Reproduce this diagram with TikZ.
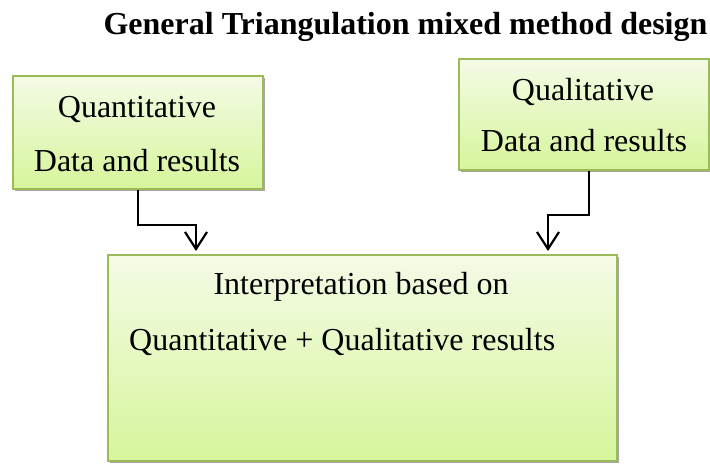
\documentclass[tikz,border=0pt]{standalone}
\usepackage{fontspec}
\setmainfont{Liberation Serif}
\usetikzlibrary{arrows.meta,calc}

\definecolor{boxline}{HTML}{9BBB59}
\definecolor{boxtop}{HTML}{F4FBE6}
\definecolor{boxbottom}{HTML}{D6F59B}
\definecolor{shadowgray}{HTML}{A6A6A6}

\tikzset{
  panel/.style={draw=boxline, line width=1.6pt, top color=boxtop, bottom color=boxbottom,
    rectangle, anchor=north west, inner sep=0pt},
  panelshadow/.style={fill=shadowgray, draw=none},
  label/.style={font=\fontsize{32}{38}\selectfont, anchor=base, inner sep=0pt},
  flow/.style={line width=2.2pt, -{Straight Barb[length=17pt,width=22pt,line width=2.2pt]},
    shorten >=3pt},
}

\begin{document}
\begin{tikzpicture}[x=1pt,y=-1pt]
\useasboundingbox (0,0) rectangle (710,464);

% heading
\node[label, font=\fontsize{32}{38}\selectfont\bfseries] (title) at (405.5,34)
  {General Triangulation mixed method design};

% shadows behind the panels
\fill[panelshadow] (15,78) rectangle (265,191);
\fill[panelshadow] (461,61) rectangle (711,172);
\fill[panelshadow] (110,257) rectangle (619,463);

% panels
\node[panel, minimum width=250pt, minimum height=113pt] (quant) at (12,75) {};
\node[panel, minimum width=250pt, minimum height=111pt] (qual) at (458,58) {};
\node[panel, minimum width=509pt, minimum height=206pt] (interp) at (107,254) {};

% panel texts
\node[label] (quantA) at (137,117) {Quantitative};
\node[label] (quantB) at (137,171) {Data and results};
\node[label] (qualA) at (583,100) {Qualitative};
\node[label] (qualB) at (584,151) {Data and results};
\node[label] (interpA) at (361,294) {Interpretation based on};
\node[label, anchor=base west] (interpB) at (129,350) {Quantitative + Qualitative results};

% connectors into the interpretation panel
\draw[flow] ([xshift=126pt]quant.south west) -- ++(0,35)
  -| ([xshift=89pt]interp.north west);
\draw[flow] ([xshift=131pt]qual.south west) -- ++(0,44)
  -| ([xshift=441pt]interp.north west);
\end{tikzpicture}
\end{document}
